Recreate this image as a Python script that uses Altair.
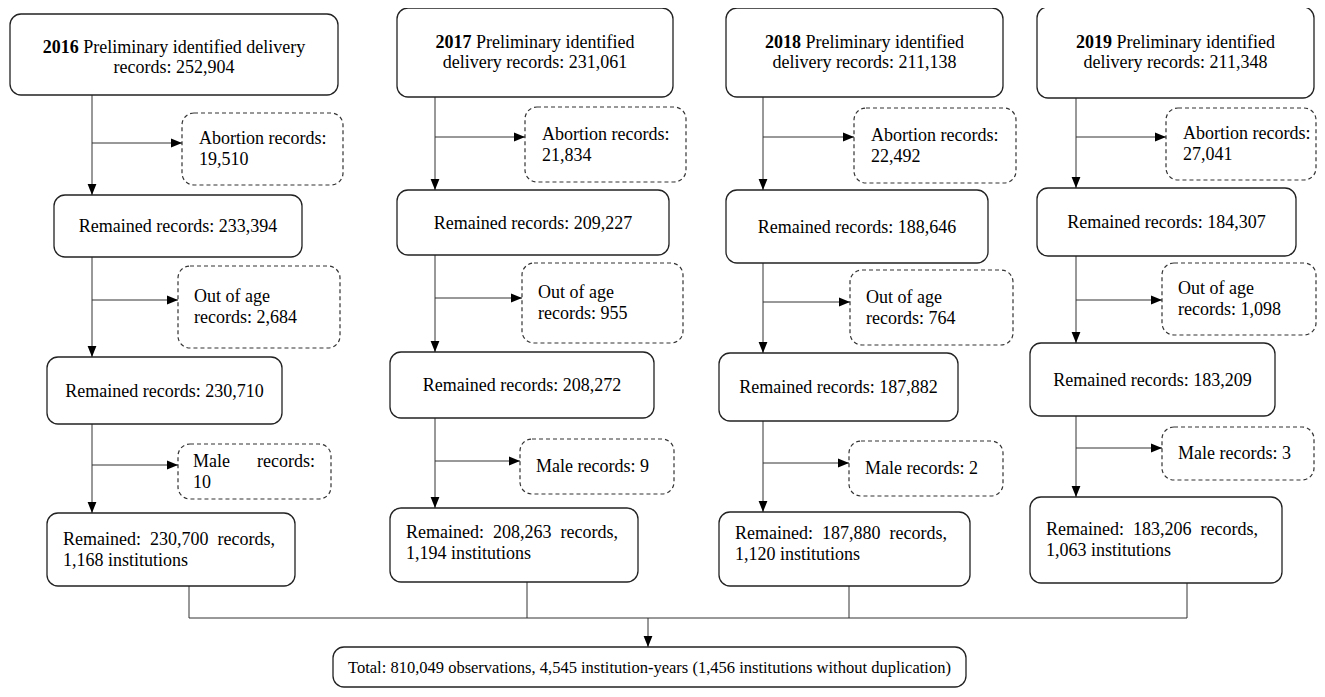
import altair as alt
import pandas as pd

years = ["2016", "2017", "2018", "2019"]
preliminary = ["252,904", "231,061", "211,138", "211,348"]
abortion = ["19,510", "21,834", "22,492", "27,041"]
remained_1 = ["233,394", "209,227", "188,646", "184,307"]
out_of_age = ["2,684", "955", "764", "1,098"]
remained_2 = ["230,710", "208,272", "187,882", "183,209"]
male = ["10", "9", "2", "3"]
final_records = ["230,700", "208,263", "187,880", "183,206"]
final_institutions = ["1,168", "1,194", "1,120", "1,063"]
total_observations = "810,049"
total_institution_years = "4,545"
total_institutions = "1,456"

# ---------------- layout (page pixel coordinates) ----------------
top_box = [(10, 338, 14, 95), (397, 673, 8, 97), (726, 1003, 8, 97), (1037, 1314, 7, 98)]
abort_box = [(182, 343, 113, 185), (525, 686, 107, 182), (854, 1016, 108, 183), (1166, 1316, 108, 180)]
rem1_box = [(54, 302, 195, 257), (397, 669, 190, 255), (726, 988, 190, 263), (1037, 1296, 188, 256)]
ooa_box = [(178, 340, 266, 348), (522, 683, 263, 343), (850, 1013, 270, 345), (1162, 1316, 263, 335)]
rem2_box = [(47, 282, 357, 424), (390, 654, 352, 418), (719, 958, 353, 421), (1030, 1275, 343, 416)]
male_box = [(178, 331, 444, 499), (520, 674, 439, 494), (849, 1003, 441, 496), (1162, 1314, 427, 480)]
final_box = [(47, 295, 513, 586), (390, 638, 508, 582), (719, 970, 512, 586), (1030, 1282, 497, 583)]
spine_x = [92, 435, 763, 1076]
branch_y = [(143, 300, 465), (137, 298, 461), (137, 302, 463), (137, 300, 448)]
connector_x = [189, 527, 849, 1187]
final_text_base = [545, 538, 539, 535]
join_y = 618
total_box = (333, 966, 647, 687)
total_arrow_x = 648
HEAD = 5.5
FS = 18
LINE = 20.5

TIMES = {'P': 556, 'r': 333, 'e': 444, 'l': 278, 'i': 278, 'm': 778, 'n': 500, 'a': 444,
         'y': 500, 'd': 500, 't': 278, 'f': 333, 'v': 500, 'c': 444, 'o': 500, 's': 389,
         ':': 278, ',': 250, ' ': 250}


def width(s, size=FS):
    return sum(TIMES.get(ch, 500) for ch in s) * size / 1000.0


# ---------------- build tables ----------------
solid, dashed, rules, down_heads, right_heads = [], [], [], [], []
txt_c, txt_l, txt_bold = [], [], []

NB = "\u00a0"

for i in range(4):
    for b in (top_box[i], rem1_box[i], rem2_box[i], final_box[i]):
        solid.append(dict(x=b[0], x2=b[1], y=b[2], y2=b[3]))
    for b in (abort_box[i], ooa_box[i], male_box[i]):
        dashed.append(dict(x=b[0], x2=b[1], y=b[2], y2=b[3]))
    sx = spine_x[i]
    chain = [top_box[i], rem1_box[i], rem2_box[i], final_box[i]]
    for a, b in zip(chain[:-1], chain[1:]):
        rules.append(dict(x=sx, x2=sx, y=a[3], y2=b[2]))
        down_heads.append(dict(x=sx, y=b[2] - HEAD))
    for by, db in zip(branch_y[i], (abort_box[i], ooa_box[i], male_box[i])):
        rules.append(dict(x=sx, x2=db[0], y=by, y2=by))
        right_heads.append(dict(x=db[0] - HEAD, y=by))
    cx = connector_x[i]
    rules.append(dict(x=cx, x2=cx, y=final_box[i][3], y2=join_y))

    # top box text: bold year followed by regular text
    tb = top_box[i]
    center = (tb[0] + tb[1]) / 2
    if i == 0:
        reg1 = "Preliminary identified delivery"
        line2 = "records: " + preliminary[i]
        b1 = (tb[2] + tb[3]) / 2 - 2
    else:
        reg1 = "Preliminary identified"
        line2 = "delivery records: " + preliminary[i]
        b1 = (tb[2] + tb[3]) / 2 - 5
    bw = 2.0 * FS
    sp = width(" ")
    start = center - (bw + sp + width(reg1)) / 2
    txt_bold.append(dict(x=start, y=b1, t=years[i]))
    txt_l.append(dict(x=start + bw + sp, y=b1, t=reg1))
    txt_c.append(dict(x=center, y=b1 + LINE, t=line2))

    # dashed boxes
    ab = abort_box[i]
    cy = (ab[2] + ab[3]) / 2
    txt_l.append(dict(x=ab[0] + 17, y=cy - 5, t="Abortion records:"))
    txt_l.append(dict(x=ab[0] + 17, y=cy + 16, t=abortion[i]))
    ob = ooa_box[i]
    cy = (ob[2] + ob[3]) / 2
    txt_l.append(dict(x=ob[0] + 16, y=cy - 5, t="Out of age"))
    txt_l.append(dict(x=ob[0] + 16, y=cy + 16, t="records: " + out_of_age[i]))
    mb = male_box[i]
    cy = (mb[2] + mb[3]) / 2
    if i == 0:
        txt_l.append(dict(x=mb[0] + 15, y=cy - 5, t="Male" + NB * 6 + "records:"))
        txt_l.append(dict(x=mb[0] + 15, y=cy + 16, t=male[i]))
    else:
        txt_l.append(dict(x=mb[0] + 16, y=cy + 5.5, t="Male records: " + male[i]))

    # remained boxes
    for rb, val in ((rem1_box[i], remained_1[i]), (rem2_box[i], remained_2[i])):
        txt_c.append(dict(x=(rb[0] + rb[1]) / 2, y=(rb[2] + rb[3]) / 2 + 6,
                          t="Remained records: " + val))
    fb = final_box[i]
    fy = final_text_base[i]
    txt_l.append(dict(x=fb[0] + 16, y=fy,
                      t="Remained:" + NB + " " + final_records[i] + NB + " records,"))
    txt_l.append(dict(x=fb[0] + 16, y=fy + LINE, t=final_institutions[i] + " institutions"))

rules.append(dict(x=connector_x[0], x2=connector_x[-1], y=join_y, y2=join_y))
rules.append(dict(x=total_arrow_x, x2=total_arrow_x, y=join_y, y2=total_box[2]))
down_heads.append(dict(x=total_arrow_x, y=total_box[2] - HEAD))
solid.append(dict(x=total_box[0], x2=total_box[1], y=total_box[2], y2=total_box[3]))
total_text = [dict(x=total_box[0] + 15, y=(total_box[2] + total_box[3]) / 2 + 6,
                   t="Total: " + total_observations + " observations, " + total_institution_years
                   + " institution-years (" + total_institutions + " institutions without duplication)")]

# ---------------- encodings ----------------
xs = alt.Scale(domain=[8, 1317], nice=False, zero=False)
ys = alt.Scale(domain=[8, 689], nice=False, zero=False, reverse=True)
X = alt.X("x:Q", scale=xs, axis=None)
Y = alt.Y("y:Q", scale=ys, axis=None)
X2 = alt.X2("x2:Q")
Y2 = alt.Y2("y2:Q")

FONT = "Liberation Serif"

rule_layer = alt.Chart(pd.DataFrame(rules)).mark_rule(stroke="#333333", strokeWidth=1).encode(
    x=X, x2=X2, y=Y, y2=Y2)
solid_layer = alt.Chart(pd.DataFrame(solid)).mark_rect(
    fill="white", stroke="#222222", strokeWidth=1.3, cornerRadius=11).encode(x=X, x2=X2, y=Y, y2=Y2)
dashed_layer = alt.Chart(pd.DataFrame(dashed)).mark_rect(
    fill="white", stroke="#333333", strokeWidth=1.2, strokeDash=[4, 3], cornerRadius=12).encode(
    x=X, x2=X2, y=Y, y2=Y2)
down_layer = alt.Chart(pd.DataFrame(down_heads)).mark_point(
    shape="M-0.8,-1L0.8,-1L0,1Z", filled=True, fill="black", opacity=1, strokeWidth=0,
    size=HEAD * HEAD * 4).encode(x=X, y=Y)
right_layer = alt.Chart(pd.DataFrame(right_heads)).mark_point(
    shape="M-1,-0.8L1,0L-1,0.8Z", filled=True, fill="black", opacity=1, strokeWidth=0,
    size=HEAD * HEAD * 4).encode(x=X, y=Y)

text_c = alt.Chart(pd.DataFrame(txt_c)).mark_text(
    font=FONT, fontSize=FS, align="center", baseline="alphabetic", color="black").encode(
    x=X, y=Y, text="t:N")
text_l = alt.Chart(pd.DataFrame(txt_l)).mark_text(
    font=FONT, fontSize=FS, align="left", baseline="alphabetic", color="black").encode(
    x=X, y=Y, text="t:N")
text_b = alt.Chart(pd.DataFrame(txt_bold)).mark_text(
    font=FONT, fontSize=FS, fontWeight="bold", align="left", baseline="alphabetic",
    color="black").encode(x=X, y=Y, text="t:N")
text_total = alt.Chart(pd.DataFrame(total_text)).mark_text(
    font=FONT, fontSize=16.5, align="left", baseline="alphabetic", color="black").encode(
    x=X, y=Y, text="t:N")

chart = alt.layer(
    rule_layer, solid_layer, dashed_layer, down_layer, right_layer,
    text_c, text_l, text_b, text_total,
).properties(
    width=1309, height=681, padding=0, autosize=alt.AutoSizeParams(type="none"),
    background="white",
).configure_view(stroke=None)

chart.save("out.html", embed_options={"renderer": "svg", "actions": False})
